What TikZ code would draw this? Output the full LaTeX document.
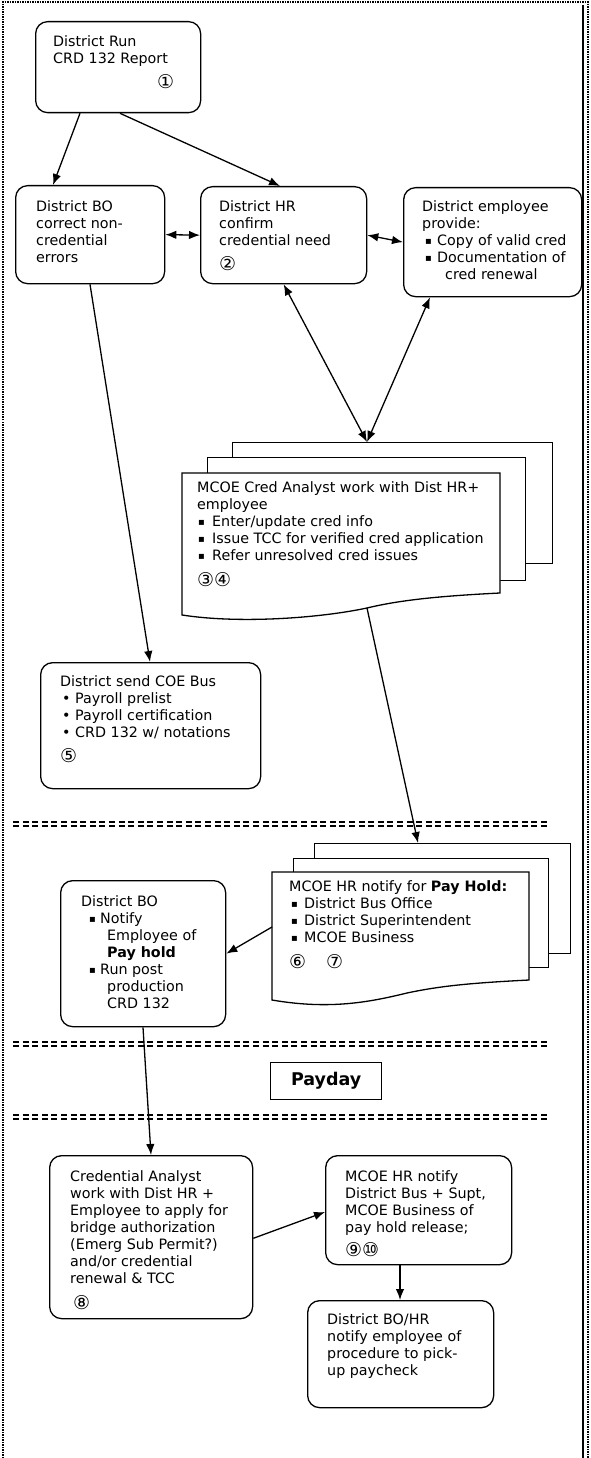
\documentclass[tikz,border=0pt]{standalone}
\usepackage{fontspec}
\setmainfont{DejaVu Sans}
\usetikzlibrary{arrows.meta,calc}

\tikzset{
  box/.style={draw, line width=1.3pt, rounded corners=12pt, anchor=north west, inner sep=0pt},
  sheet/.style={draw, line width=1.3pt, fill=white, anchor=north west, inner sep=0pt},
  txt/.style={anchor=north west, align=left, inner sep=0pt, font=\fontsize{14.3}{17}\selectfont,
    execute at begin node={\rule{0pt}{12pt}}},
  arr/.style={line width=1.3pt, -{Latex[length=11pt,width=8.5pt]}},
  darr/.style={line width=1.3pt, {Latex[length=11pt,width=8.5pt]}-{Latex[length=11pt,width=8.5pt]}},
  sepline/.style={line width=1.3pt, dash pattern=on 6pt off 3.6pt},
}
\newcommand\sq[1]{\makebox[#1][l]{\raisebox{1pt}{\fontsize{10}{17}\selectfont ▪}}}
\newcommand\rd[1]{\makebox[#1][l]{•}}
\newcommand\cn[1]{\smash{\fontsize{19}{17}\selectfont #1}}

\begin{document}
\begin{tikzpicture}[x=1pt,y=-1pt]
    \useasboundingbox (0,0) rectangle (591,1458);
    \draw[densely dotted, line width=1.5pt] (3,1458) -- (3,2) -- (588,2) -- (588,1458);
    \draw[line width=1.2pt] (583,5) -- (583,1458);

    \foreach \y in {824,1044,1117} {
      \draw[sepline] (13,\y-2) -- (548,\y-2);
      \draw[sepline] (13,\y+2) -- (548,\y+2);
    }

    \node[box, minimum width=165pt, minimum height=91pt] (run) at (35,21) {};
    \node[box, minimum width=149pt, minimum height=98pt] (bo) at (15,185) {};
    \node[box, minimum width=166pt, minimum height=97pt] (hr) at (200,186) {};
    \node[box, minimum width=178pt, minimum height=109pt] (emp) at (403,187) {};
    \node[box, minimum width=220pt, minimum height=126pt] (coe) at (40,662) {};
    \node[box, minimum width=165pt, minimum height=146pt] (bo2) at (60,880) {};
    \node[draw, line width=1.3pt, anchor=north west, inner sep=0pt, minimum width=111pt,
      minimum height=37pt, font=\fontsize{17.5}{20}\selectfont\bfseries] (pay) at (270,1062) {Payday};
    \node[box, minimum width=203pt, minimum height=163pt] (cred) at (49,1155) {};
    \node[box, minimum width=186pt, minimum height=109pt] (rel) at (325,1155) {};
    \node[box, minimum width=186pt, minimum height=107pt] (fin) at (307,1300) {};

    \node[sheet, minimum width=320pt, minimum height=121pt] (caback) at (232,442) {};
    \node[sheet, minimum width=318pt, minimum height=123pt] (camid) at (207,457) {};
    \draw[sheet] (182,473) -- (500,473) -- (500,593)
      .. controls (440,596) and (400,600) .. (367,608)
      .. controls (320,618) and (240,624) .. (182,615) -- cycle;
    \coordinate (cafoot) at (367,608);

    \node[sheet, minimum width=256pt, minimum height=110pt] (hrback) at (314,843) {};
    \node[sheet, minimum width=255pt, minimum height=109pt] (hrmid) at (293,858) {};
    \draw[sheet] (272,872) -- (529,872) -- (529,980)
      .. controls (470,983) and (440,986) .. (407,993)
      .. controls (370,1002) and (330,1010) .. (272,1000) -- cycle;
    \coordinate (hrside) at (272,927);

    \node[txt] (runtxt) at (53,35) {District Run\\CRD 132 Report\\[8pt]\hspace*{104pt}\cn{①}};
    \node[txt] (botxt) at (36,200) {District BO\\correct non-\\credential\\errors};
    \node[txt] (hrtxt) at (219,200) {District HR\\confirm\\credential need\\[8pt]\cn{②}};
    \node[txt] (emptxt) at (422,200) {District employee\\provide:\\\hspace*{3pt}\sq{12pt}Copy of valid cred\\\hspace*{3pt}\sq{12pt}Documentation of\\\hspace*{23pt}cred renewal};
    \node[txt] (catxt) at (197,481) {MCOE Cred Analyst work with Dist HR+\\employee\\\hspace*{1pt}\sq{14pt}Enter/update cred info\\\hspace*{1pt}\sq{14pt}Issue TCC for verified cred application\\\hspace*{1pt}\sq{14pt}Refer unresolved cred issues\\[9pt]\cn{③④}};
    \node[txt] (coetxt) at (60,675) {District send COE Bus\\\hspace*{2pt}\rd{13pt}Payroll prelist\\\hspace*{2pt}\rd{13pt}Payroll certification\\\hspace*{2pt}\rd{13pt}CRD 132 w/ notations\\[8pt]\cn{⑤}};
    \node[txt] (hrntxt) at (289,880) {MCOE HR notify for \textbf{Pay Hold:}\\\hspace*{2pt}\sq{13pt}District Bus Office\\\hspace*{2pt}\sq{13pt}District Superintendent\\\hspace*{2pt}\sq{13pt}MCOE Business\\[9pt]\cn{⑥}\hspace*{20pt}\cn{⑦}};
    \node[txt] (bo2txt) at (81,895) {District BO\\\hspace*{8pt}\sq{11pt}Notify\\\hspace*{26pt}Employee of\\\hspace*{26pt}\textbf{Pay hold}\\\hspace*{8pt}\sq{11pt}Run post\\\hspace*{26pt}production\\\hspace*{26pt}CRD 132};
    \node[txt] (credtxt) at (70,1170) {Credential Analyst\\work with Dist HR +\\Employee to apply for\\bridge authorization\\(Emerg Sub Permit?)\\and/or credential\\renewal \& TCC\\[9pt]\hspace*{3pt}\cn{⑧}};
    \node[txt] (reltxt) at (345,1170) {MCOE HR notify\\District Bus + Supt,\\MCOE Business of\\pay hold release;\\[7pt]\cn{⑨⑩}};
    \node[txt] (fintxt) at (327,1313) {District BO/HR\\notify employee of\\procedure to pick-\\up paycheck};

    \draw[arr] ($(run.south west)+(45,0)$) -- ($(bo.north west)+(38,0)$);
    \draw[arr] ($(run.south west)+(85,0)$) -- ($(hr.north west)+(80,0)$);
    \draw[darr] (bo.east) -- (hr.west);
    \draw[darr] (hr.east) -- (emp.west);
    \draw[darr] (hr.south) -- ($(caback.north west)+(135,0)$);
    \draw[darr] ($(emp.south west)+(27,0)$) -- ($(caback.north west)+(135,0)$);
    \draw[arr] ($(bo.south west)+(75,0)$) -- ($(coe.north west)+(110,0)$);
    \draw[arr] (cafoot) -- ($(hrback.north west)+(104,0)$);
    \draw[arr] (hrside) -- (bo2.east);
    \draw[arr] ($(bo2.south west)+(83,0)$) -- ($(cred.north west)+(102,0)$);
    \draw[arr] ($(cred.south east)+(0,-81)$) -- ($(rel.north west)+(0,57)$);
    \draw[arr] ($(rel.south west)+(75,0)$) -- ($(fin.north west)+(93,0)$);
\end{tikzpicture}
\end{document}
